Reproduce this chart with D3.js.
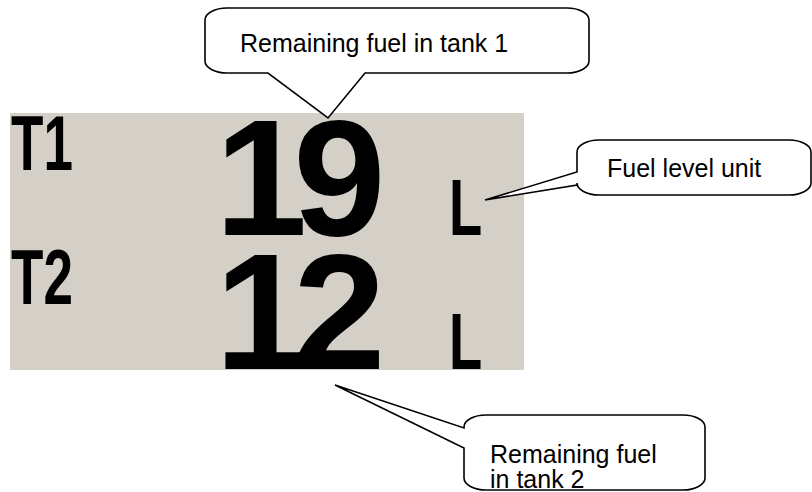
<!DOCTYPE html>
<html>
<head>
<meta charset="utf-8">
<script src="https://cdn.jsdelivr.net/npm/d3@7"></script>
<style>
  html, body { margin: 0; padding: 0; background: #ffffff; }
  svg { display: block; }
</style>
</head>
<body>
<div id="chart"></div>
<script>
// ---- data ----
const tanks = ["T1", "T2"];
const fuelValues = [19, 12];
const unitLabels = ["L", "L"];
const calloutTexts = [
  ["Remaining fuel in tank 1"],
  ["Fuel level unit"],
  ["Remaining fuel", "in tank 2"]
];

// ---- layout ----
const W = 812, H = 492;
const svg = d3.select("#chart").append("svg")
  .attr("width", W).attr("height", H)
  .attr("viewBox", `0 0 ${W} ${H}`);

const panel = { x: 10, y: 113, w: 514, h: 257 };

svg.append("clipPath").attr("id", "panelClip")
  .append("rect").attr("x", panel.x).attr("y", panel.y)
  .attr("width", panel.w).attr("height", panel.h);

svg.append("rect")
  .attr("x", panel.x).attr("y", panel.y)
  .attr("width", panel.w).attr("height", panel.h)
  .attr("fill", "#d4d0c8");

// row scale: baseline of the big digits for each tank
const yRow = d3.scalePoint().domain(tanks).range([235, 369]);
// column scale for the three display fields
const xCol = d3.scaleOrdinal().domain(["label", "value", "unit"]).range([11, 215, 449]);

const rows = tanks.map((t, i) => ({ tank: t, value: fuelValues[i], unit: unitLabels[i] }));

const disp = svg.append("g").attr("clip-path", "url(#panelClip)")
  .attr("font-family", "'Liberation Sans', Arial, sans-serif")
  .attr("font-weight", "bold").attr("fill", "#000");

// tank labels
disp.selectAll("text.lab").data(rows).join("text")
  .attr("class", "lab")
  .attr("transform", d => `translate(${xCol("label")},${yRow(d.tank) - 65}) scale(0.68,1)`)
  .attr("font-size", 78)
  .text(d => d.tank);

// values
disp.selectAll("text.val").data(rows).join("text")
  .attr("class", "val")
  .attr("transform", d => `translate(${xCol("value")},${yRow(d.tank)})`)
  .attr("font-size", 166)
  .attr("letter-spacing", -14)
  .text(d => d.value);

// units
disp.selectAll("text.unit").data(rows).join("text")
  .attr("class", "unit")
  .attr("transform", d => `translate(${xCol("unit")},${yRow(d.tank)}) scale(0.68,1)`)
  .attr("font-size", 80)
  .text(d => d.unit);

// ---- callouts ----
const callouts = [
  { box: [205, 8, 589, 73], side: "bottom", base: [268, 365], tip: [328, 118],
    text: calloutTexts[0], tx: 240, ty: 52 },
  { box: [577, 140, 811, 195], side: "left", base: [172, 185], tip: [485, 200],
    text: calloutTexts[1], tx: 607, ty: 177 },
  { box: [464, 415, 705, 490], side: "left", base: [428, 448], tip: [335, 385],
    text: calloutTexts[2], tx: 490, ty: 463 }
];

function bubblePath(c) {
  const [x0, y0, x1, y1] = c.box;
  const rx = 22, ry = 12;
  const p = d3.path();
  p.moveTo(x0 + rx, y0);
  p.lineTo(x1 - rx, y0);
  p.bezierCurveTo(x1 - rx * 0.45, y0, x1, y0 + ry * 0.45, x1, y0 + ry);
  p.lineTo(x1, y1 - ry);
  p.bezierCurveTo(x1, y1 - ry * 0.45, x1 - rx * 0.45, y1, x1 - rx, y1);
  if (c.side === "bottom") {
    p.lineTo(c.base[1], y1);
    p.lineTo(c.tip[0], c.tip[1]);
    p.lineTo(c.base[0], y1);
  }
  p.lineTo(x0 + rx, y1);
  p.bezierCurveTo(x0 + rx * 0.45, y1, x0, y1 - ry * 0.45, x0, y1 - ry);
  if (c.side === "left") {
    p.lineTo(x0, c.base[1]);
    p.lineTo(c.tip[0], c.tip[1]);
    p.lineTo(x0, c.base[0]);
  }
  p.lineTo(x0, y0 + ry);
  p.bezierCurveTo(x0, y0 + ry * 0.45, x0 + rx * 0.45, y0, x0 + rx, y0);
  p.closePath();
  return p.toString();
}

const cg = svg.selectAll("g.callout").data(callouts).join("g").attr("class", "callout");
cg.append("path")
  .attr("d", bubblePath)
  .attr("fill", "#ffffff")
  .attr("stroke", "#000")
  .attr("stroke-width", 1.6)
  .attr("stroke-linejoin", "miter");

cg.each(function (c) {
  const t = d3.select(this).append("text")
    .attr("font-family", "'Liberation Sans', Arial, sans-serif")
    .attr("font-size", 25)
    .attr("fill", "#000");
  c.text.forEach((line, i) => {
    t.append("tspan").attr("x", c.tx).attr("y", c.ty + i * 25).text(line);
  });
});
</script>
</body>
</html>
